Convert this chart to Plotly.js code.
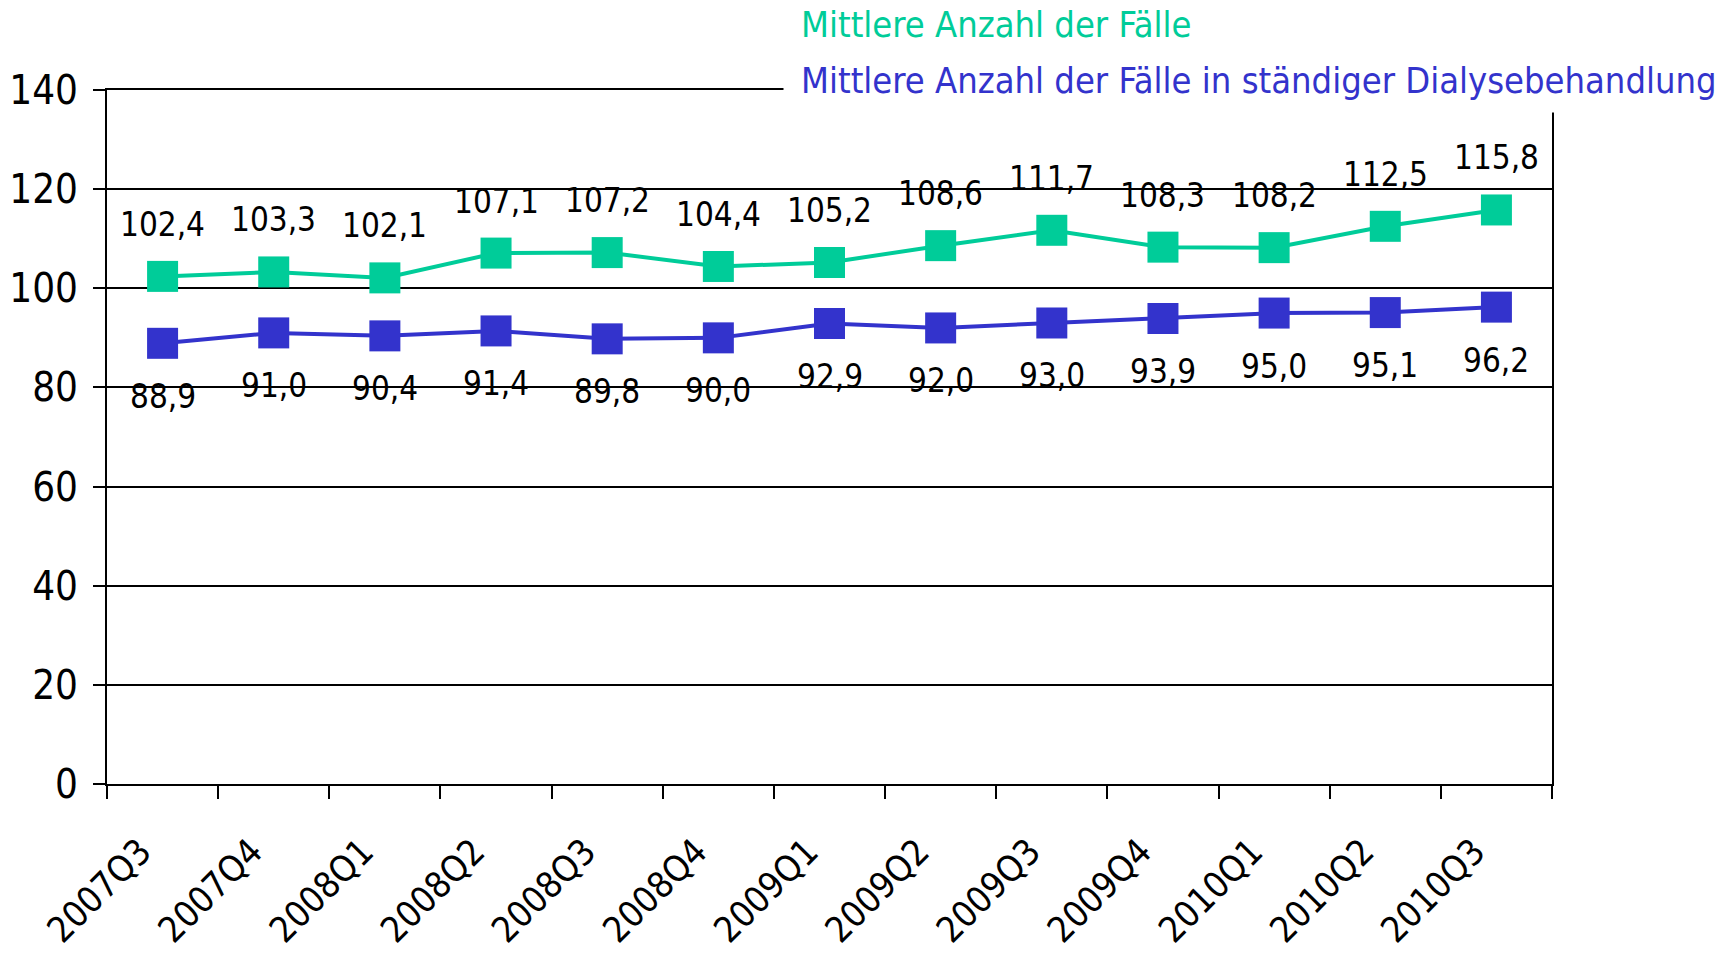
<!DOCTYPE html>
<html><head><meta charset="utf-8">
<script src="https://cdn.plot.ly/plotly-3.0.1.min.js"></script>
<style>html,body{margin:0;padding:0;background:#fff;}#chart{width:1735px;height:958px;}</style>
</head><body><div id="chart"></div>
<script>
const categories = ["2007Q3","2007Q4","2008Q1","2008Q2","2008Q3","2008Q4","2009Q1","2009Q2","2009Q3","2009Q4","2010Q1","2010Q2","2010Q3"];
const faelle = [102.4,103.3,102.1,107.1,107.2,104.4,105.2,108.6,111.7,108.3,108.2,112.5,115.8];
const dialyse = [88.9,91.0,90.4,91.4,89.8,90.0,92.9,92.0,93.0,93.9,95.0,95.1,96.2];
const seriesNames = ["Mittlere Anzahl der Fälle","Mittlere Anzahl der Fälle in ständiger Dialysebehandlung"];
const yTicks = [0,20,40,60,80,100,120,140];

const GREEN = "#00CC99", BLUE = "#3333CC";
const FONT = "DejaVu Sans Condensed, sans-serif";
const fmt = v => v.toFixed(1).replace(".", ",");

const traces = [
  {x: categories, y: faelle, name: seriesNames[0], type: "scatter", mode: "lines+markers",
   line: {color: GREEN, width: 4}, marker: {symbol: "square", size: 31, color: GREEN}},
  {x: categories, y: dialyse, name: seriesNames[1], type: "scatter", mode: "lines+markers",
   line: {color: BLUE, width: 4}, marker: {symbol: "square", size: 31, color: BLUE}}
];

const annotations = [];
categories.forEach((c, i) => {
  annotations.push({x: c, y: faelle[i], xref: "x", yref: "y", text: fmt(faelle[i]), showarrow: false,
    yshift: 52, font: {family: FONT, size: 33, color: "#000"}});
  annotations.push({x: c, y: dialyse[i], xref: "x", yref: "y", text: fmt(dialyse[i]), showarrow: false,
    yshift: -53, font: {family: FONT, size: 33, color: "#000"}});
});
// white box covering the top-right frame (legend area)
annotations.push({xref: "paper", yref: "paper", x: 0.4675, y: 1.2, xanchor: "left", yanchor: "top",
  text: " ", showarrow: false, width: 960, height: 160, bgcolor: "#fff", borderpad: 0});
annotations.push({xref: "paper", yref: "paper", x: 0.479, y: 1.095, xanchor: "left", yanchor: "middle",
  text: seriesNames[0], showarrow: false, font: {family: FONT, size: 36, color: GREEN}});
annotations.push({xref: "paper", yref: "paper", x: 0.479, y: 1.013, xanchor: "left", yanchor: "middle",
  text: seriesNames[1], showarrow: false, font: {family: FONT, size: 36, color: BLUE}});

const layout = {
  width: 1735, height: 958,
  margin: {l: 107, r: 183, t: 90, b: 174},
  paper_bgcolor: "#fff", plot_bgcolor: "#fff",
  showlegend: false,
  font: {family: FONT, color: "#000"},
  xaxis: {type: "category", range: [-0.5, 12.5], tickson: "boundaries", ticks: "outside", ticklen: 13,
    tickwidth: 2, tickcolor: "#000", showgrid: false, showline: true, linecolor: "#000", linewidth: 2,
    mirror: true, tickangle: -45, tickfont: {family: FONT, size: 36, color: "#000"},
    ticklabelstandoff: 30, ticklabelshift: -22},
  yaxis: {range: [0, 140], tickvals: yTicks, ticks: "outside", ticklen: 12, tickwidth: 2, tickcolor: "#000",
    showgrid: true, gridcolor: "#000", gridwidth: 2, showline: true, linecolor: "#000", linewidth: 2,
    mirror: true, zeroline: false, tickfont: {family: FONT, size: 40, color: "#000"}, ticklabelstandoff: 7},
  annotations: annotations
};

Plotly.newPlot("chart", traces, layout, {displayModeBar: false, staticPlot: true});
</script></body></html>
